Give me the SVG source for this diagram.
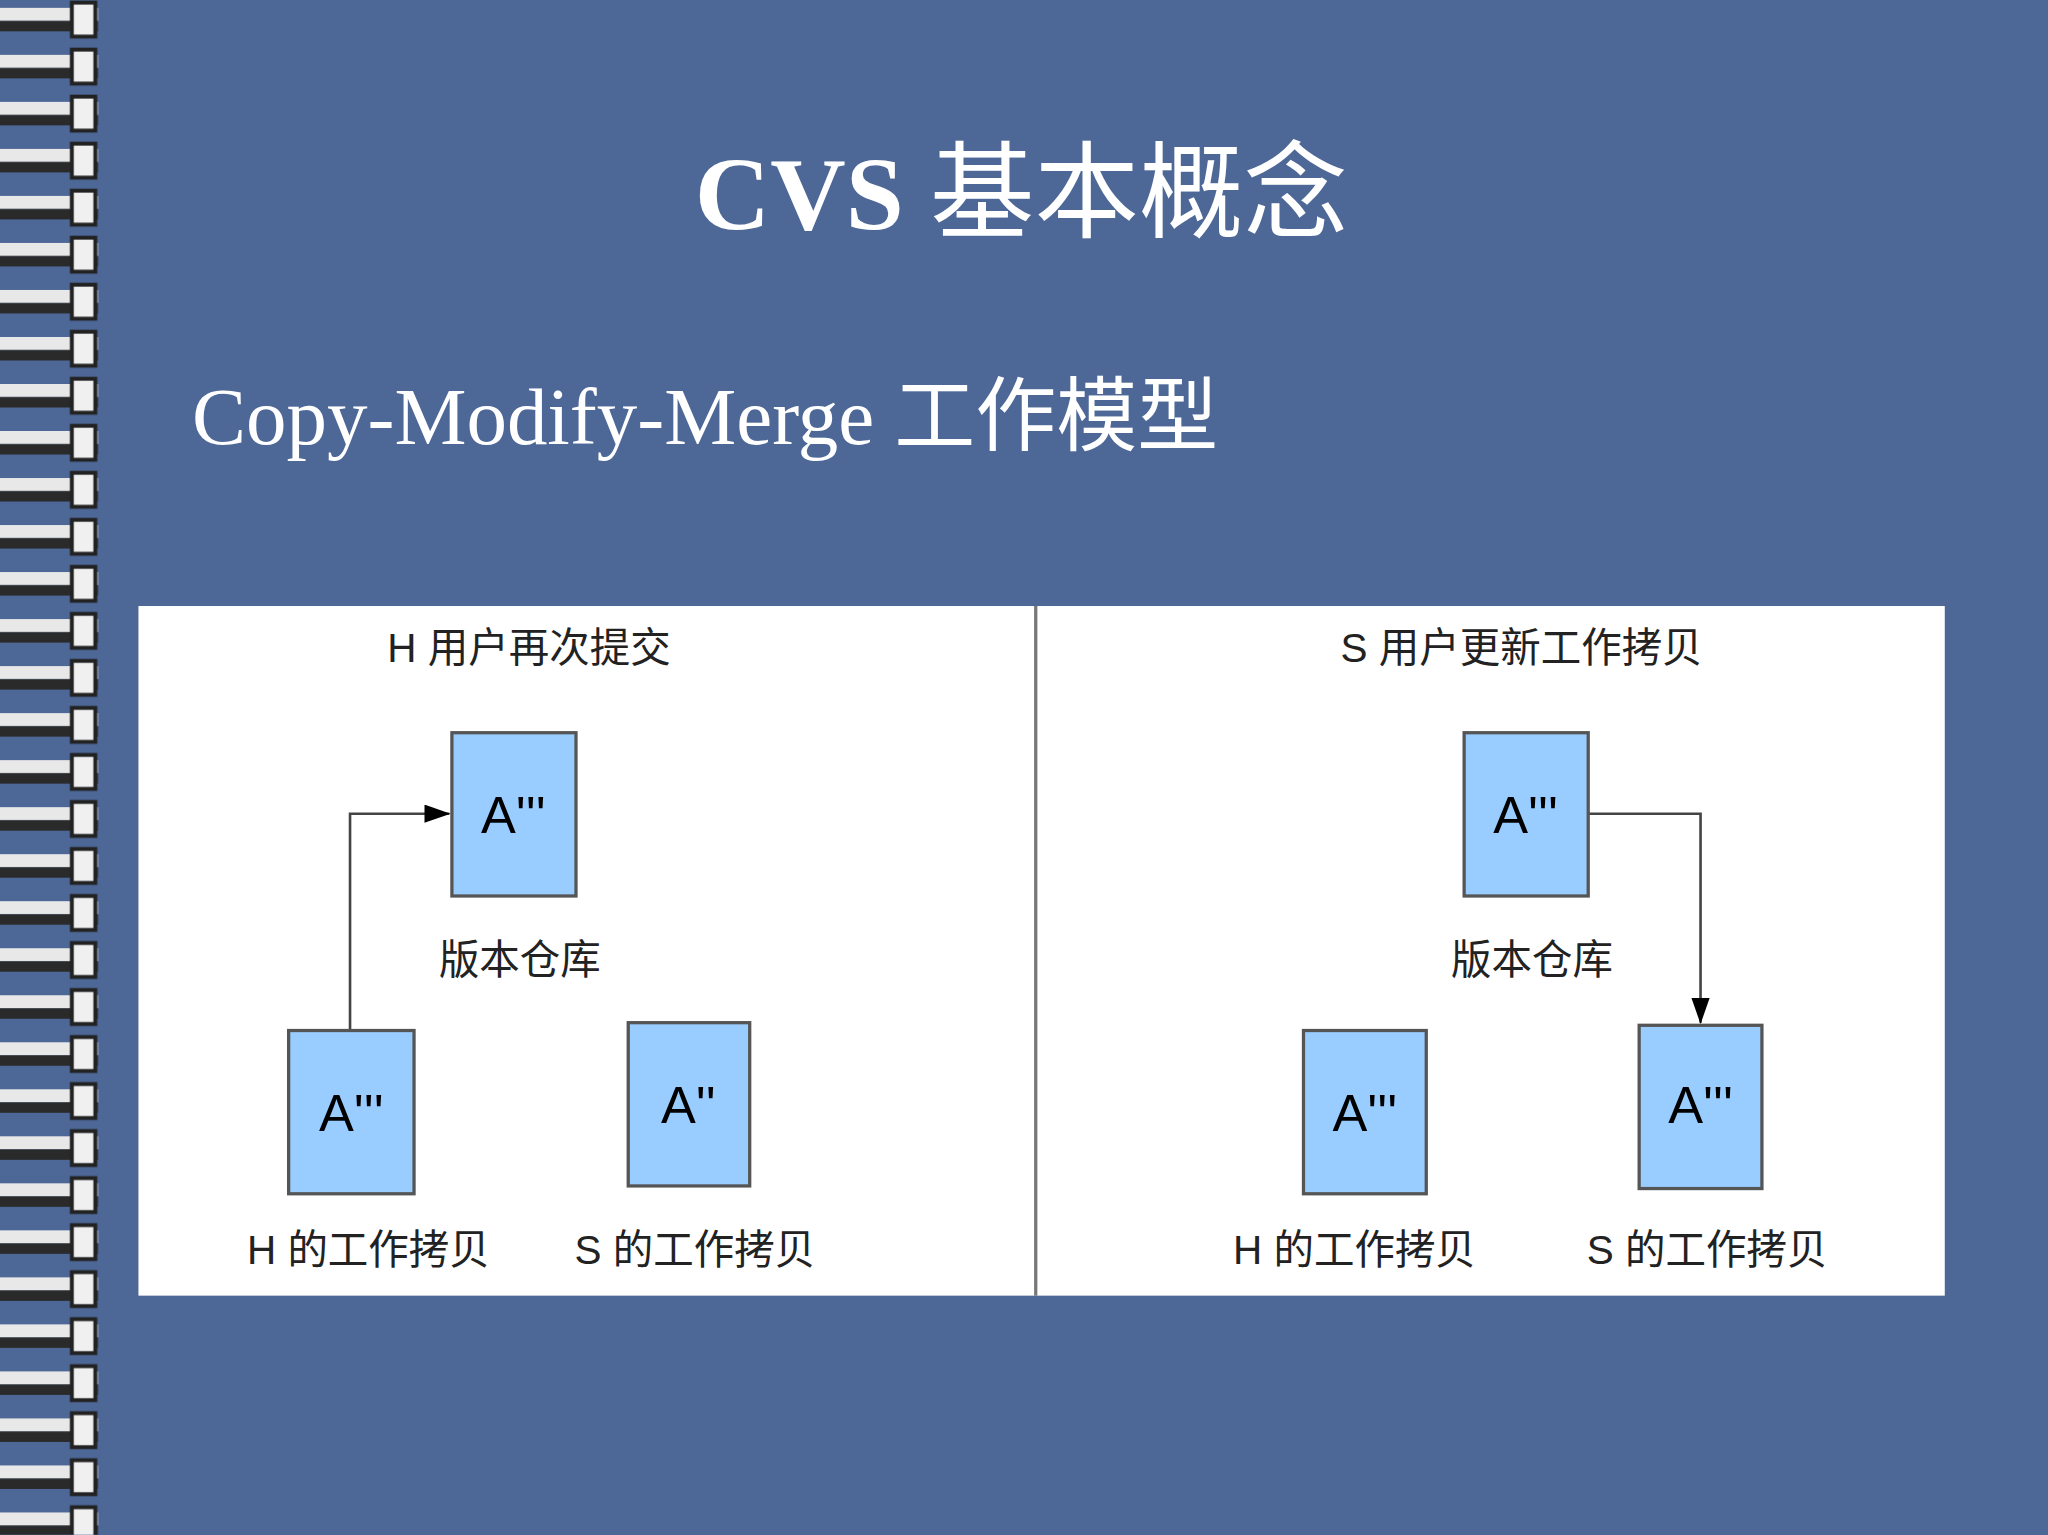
<svg xmlns="http://www.w3.org/2000/svg" width="2048" height="1535" viewBox="0 0 2048 1535">
<defs>
<style>
.box{fill:#99ccff;stroke:#555;stroke-width:2.5}
.bt{font-family:"Liberation Sans","DejaVu Sans",sans-serif;font-size:40px;fill:#000;text-anchor:middle}
.lb{font-family:"Liberation Sans","Noto Sans CJK SC",sans-serif;font-size:31px;fill:#222;text-anchor:middle}
.cn{fill:none;stroke:#444;stroke-width:2}
</style>
<marker id="ah" markerWidth="20" markerHeight="14" refX="19" refY="7" orient="auto" markerUnits="userSpaceOnUse" viewBox="0 0 20 14"><path d="M0,0L20,7L0,14z" fill="#000"/></marker>
<pattern id="ring" width="80" height="36" patternUnits="userSpaceOnUse">
<rect x="0" y="6" width="75" height="10" fill="#e8e8e8"/>
<rect x="0" y="16" width="75" height="8" fill="#2a2a2a"/>
<rect x="55" y="2" width="18" height="26" fill="#f0f0f0" stroke="#222" stroke-width="3"/>
</pattern>
</defs>
<rect width="2048" height="1535" fill="#4d6797"/>
<g transform="scale(1.3061)">
<rect x="0" y="0" width="78" height="1175" fill="url(#ring)"/>
<text x="782" y="175" font-family="Liberation Serif,'Noto Sans CJK SC',serif" font-size="80" fill="#fff" text-anchor="middle"><tspan font-weight="bold">CVS</tspan> 基本概念</text>
<text x="147" y="340" font-family="Liberation Serif,'Noto Sans CJK SC',serif" font-size="62" fill="#fff">Copy-Modify-Merge 工作模型</text>
<rect x="106" y="464" width="1383" height="528" fill="#fff"/>
<line x1="793" y1="464" x2="793" y2="992" stroke="#777" stroke-width="2.5"/>
<g id="connectors">
<polyline class="cn" points="268,789 268,623 344,623" marker-end="url(#ah)"/>
<polyline class="cn" points="1216,623 1302,623 1302,783" marker-end="url(#ah)"/>
</g>
<g id="left">
<text class="lb" x="405" y="507">H 用户再次提交</text>
<g id="repoL"><rect class="box" x="346" y="561" width="95" height="125"/><text class="bt" x="393" y="638">A'''</text><text class="lb" x="398" y="746">版本仓库</text></g>
<g id="hL"><rect class="box" x="221" y="789" width="96" height="125"/><text class="bt" x="269" y="866">A'''</text><text class="lb" x="282" y="968">H 的工作拷贝</text></g>
<g id="sL"><rect class="box" x="481" y="783" width="93" height="125"/><text class="bt" x="527" y="860">A''</text><text class="lb" x="532" y="968">S 的工作拷贝</text></g>
</g>
<g id="right">
<text class="lb" x="1165" y="507">S 用户更新工作拷贝</text>
<g id="repoR"><rect class="box" x="1121" y="561" width="95" height="125"/><text class="bt" x="1168" y="638">A'''</text><text class="lb" x="1173" y="746">版本仓库</text></g>
<g id="hR"><rect class="box" x="998" y="789" width="94" height="125"/><text class="bt" x="1045" y="866">A'''</text><text class="lb" x="1037" y="968">H 的工作拷贝</text></g>
<g id="sR"><rect class="box" x="1255" y="785" width="94" height="125"/><text class="bt" x="1302" y="860">A'''</text><text class="lb" x="1307" y="968">S 的工作拷贝</text></g>
</g>
</g>
</svg>
